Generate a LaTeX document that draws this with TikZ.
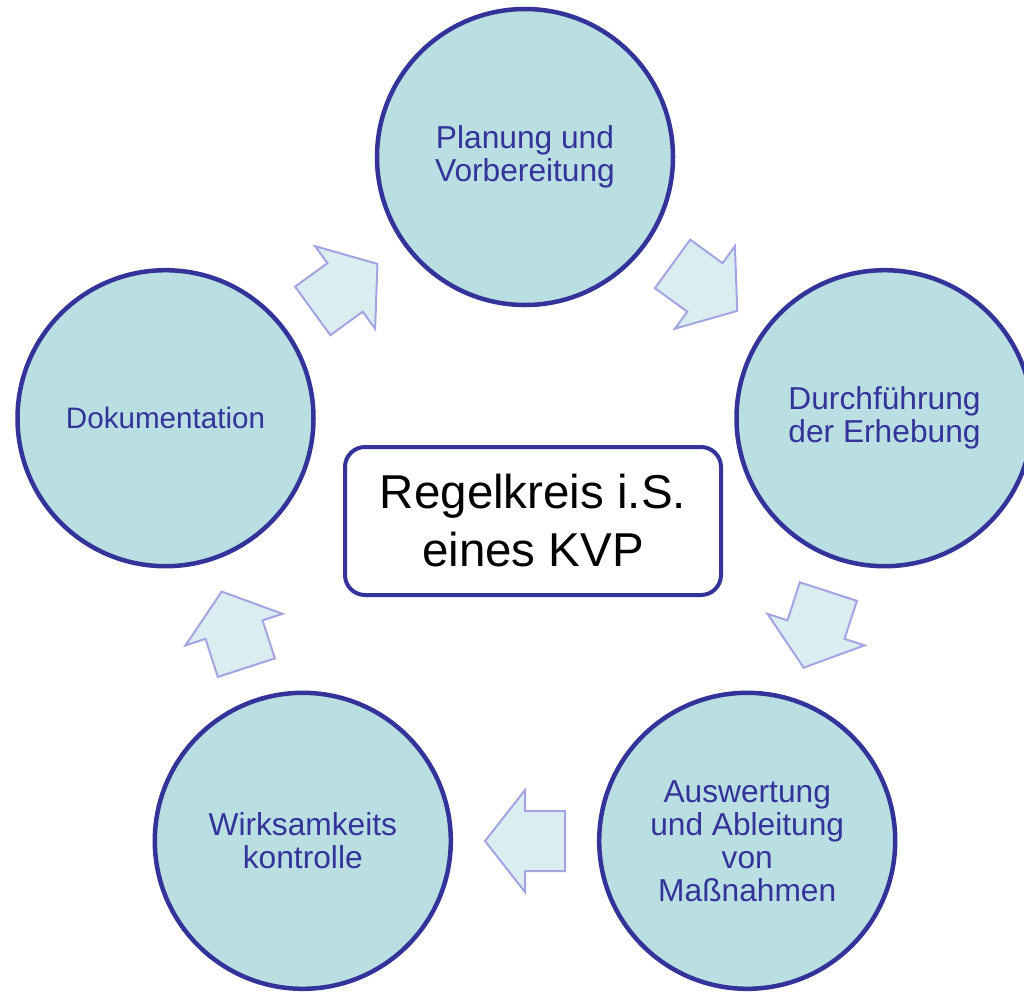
\documentclass[tikz,border=0pt]{standalone}
\usepackage{fontspec}
\setmainfont{Liberation Sans}
\definecolor{circfill}{HTML}{B9DFE3}
\definecolor{dark}{HTML}{333399}
\definecolor{arrfill}{HTML}{DAEDF1}
\definecolor{arrline}{HTML}{A4A4E2}
\tikzset{
  circ/.style={circle, draw=dark, line width=4.5pt, fill=circfill, minimum size=296pt, inner sep=0pt, align=center, text=dark, font=\fontsize{31.7}{33}\selectfont},
  centerbox/.style={draw=dark, line width=4pt, rounded corners=20pt, fill=white, minimum width=376pt, minimum height=148pt, align=center, font=\fontsize{47.5}{58}\selectfont},
  blockarrow/.style={draw=arrline, line width=2pt, fill=arrfill, line join=miter}
}
\begin{document}
\begin{tikzpicture}[x=1pt,y=-1pt]
\clip (0,0) rectangle (1024,994);
\useasboundingbox (0,0) rectangle (1024,994);
\fill[white] (0,0) rectangle (1024,994);
% block arrows
\foreach \px/\py/\rot in {345.1/287.4/36, 704.9/287.4/-36, 816/629.6/-108, 525/841/180, 234/629.6/108}{
  \begin{scope}[shift={(\px,\py)}, rotate=\rot]
    \draw[blockarrow] (-40,-30) -- (0,-30) -- (0,-51) -- (40,0) -- (0,51) -- (0,30) -- (-40,30) -- cycle;
  \end{scope}
}
% circles
\node[circ] (plan) at (525,157) {Planung und\\Vorbereitung};
\node[circ] (durch) at (884.5,418.2) {Durchführung\\der Erhebung};
\node[circ] (ausw) at (747.2,840.8) {Auswertung\\und Ableitung\\von\\Maßnahmen};
\node[circ] (wirk) at (302.8,840.8) {Wirksamkeits\\kontrolle};
\node[circ, font=\fontsize{29.6}{33}\selectfont] (doku) at (165.5,418.2) {Dokumentation};
% center box
\node[centerbox] (center) at (533,521) {Regelkreis i.S.\\eines KVP};
\end{tikzpicture}
\end{document}
